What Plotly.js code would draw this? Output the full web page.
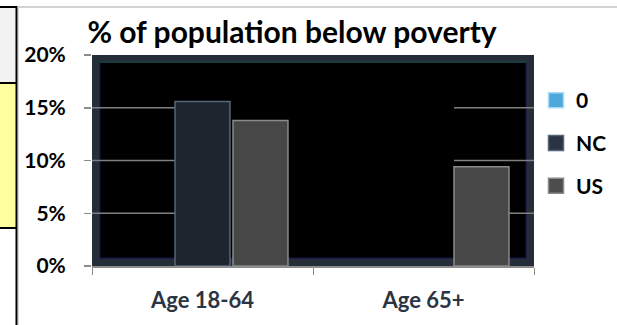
<!DOCTYPE html>
<html>
<head>
<meta charset="utf-8">
<script src="https://cdn.plot.ly/plotly-3.0.1.min.js"></script>
<style>
  html, body { margin: 0; padding: 0; background: #ffffff; }
  #chart { width: 617px; height: 325px; }
</style>
</head>
<body>
<div id="chart"></div>
<script>
// Poverty rates by age group
const categories = ['Age 18-64', 'Age 65+'];
const seriesNames = ['0', 'NC', 'US'];
const zeroValues = [0, 0];
const ncValues = [15.6, null];
const usValues = [13.8, 9.4];
const yTickValues = [0, 5, 10, 15, 20];
const yTickLabels = ['0%', '5%', '10%', '15%', '20%'];
const gridValues = [5, 10, 15];

const W = 617, H = 325;
const M = { l: 92, r: 83, t: 55, b: 59, autoexpand: false };
const plotW = W - M.l - M.r, plotH = H - M.t - M.b;
const bargap = 0.213;
const bargroupgap = 0.052;
const groupW = 1 - bargap;
const slotW = groupW / seriesNames.length;
const inset = slotW * bargroupgap / 2;

// pixel -> paper helpers for decoration drawn outside the plot area
const px = x => (x - M.l) / plotW;
const py = y => (H - M.b - y) / plotH;

const FONT = 'Lato, "Open Sans", sans-serif';
const seriesColors = ['#4fa8dc', '#1e252f', '#474747'];
const seriesEdges = ['#a8dcf7', '#56657a', '#8a8a8a'];
const swatchColors = ['#4fa8dc', '#2b3442', '#4d4d4d'];
const seriesValues = [zeroValues, ncValues, usValues];

const traces = [];
seriesNames.forEach((name, i) => {
  traces.push({
    type: 'bar', name: name, x: categories, y: seriesValues[i],
    showlegend: false,
    marker: { color: seriesColors[i], line: { color: seriesEdges[i], width: i === 0 ? 0 : 1.5 } },
    hoverinfo: 'skip'
  });
});
// legend entries with larger square swatches
seriesNames.forEach((name, i) => {
  traces.push({
    type: 'scatter', mode: 'markers', name: name, x: [null], y: [null],
    legendgroup: 'g' + i,
    marker: { symbol: 'square', size: 15, color: swatchColors[i],
              line: { color: seriesEdges[i], width: 1.5 } },
    hoverinfo: 'skip'
  });
});

const shapes = [];
// black back wall inside the dark frame
shapes.push({ type: 'rect', xref: 'paper', yref: 'paper', layer: 'below',
  x0: 8 / plotW, x1: 1 - 8 / plotW, y0: 8 / plotH, y1: 1 - 7 / plotH,
  fillcolor: '#000000', line: { color: '#12124a', width: 1 } });
shapes.push({ type: 'line', xref: 'paper', yref: 'paper', layer: 'below',
  x0: 8 / plotW, x1: 1 - 8 / plotW, y0: 1 - 7 / plotH, y1: 1 - 7 / plotH,
  line: { color: '#1d4a45', width: 1.5 } });

// gridline segments at the outer sides of the bar groups
const ncLeft = -groupW / 2 + slotW + inset;
const usLeft65 = 1 + groupW / 2 - slotW + inset;
gridValues.forEach(v => {
  shapes.push({ type: 'line', xref: 'x', yref: 'y', layer: 'below',
    x0: -0.5, x1: ncLeft, y0: v, y1: v, line: { color: '#808080', width: 1.5 } });
  shapes.push({ type: 'line', xref: 'x', yref: 'y', layer: 'below',
    x0: usLeft65, x1: 1.5, y0: v, y1: v, line: { color: '#808080', width: 1.5 } });
});

// worksheet cells on the left edge
shapes.push({ type: 'rect', xref: 'paper', yref: 'paper', layer: 'above',
  x0: px(0), x1: px(16), y0: py(83), y1: py(7), fillcolor: '#f2f2f2', line: { width: 0 } });
shapes.push({ type: 'rect', xref: 'paper', yref: 'paper', layer: 'above',
  x0: px(0), x1: px(16), y0: py(228), y1: py(83), fillcolor: '#ffff9f', line: { width: 0 } });
[7, 83, 228].forEach(y => {
  shapes.push({ type: 'line', xref: 'paper', yref: 'paper', layer: 'above',
    x0: px(0), x1: px(17), y0: py(y), y1: py(y), line: { color: '#000000', width: 2 } });
});
shapes.push({ type: 'line', xref: 'paper', yref: 'paper', layer: 'above',
  x0: px(16.5), x1: px(16.5), y0: py(325), y1: py(6), line: { color: '#000000', width: 2 } });
shapes.push({ type: 'line', xref: 'paper', yref: 'paper', layer: 'above',
  x0: px(18.5), x1: px(18.5), y0: py(325), y1: py(8), line: { color: '#d9d9d9', width: 1 } });
shapes.push({ type: 'line', xref: 'paper', yref: 'paper', layer: 'above',
  x0: px(17), x1: px(617), y0: py(7), y1: py(7), line: { color: '#a6a6a6', width: 1 } });

const layout = {
  width: W, height: H,
  margin: M,
  paper_bgcolor: '#ffffff',
  plot_bgcolor: '#252d39',
  barmode: 'group',
  bargap: bargap,
  bargroupgap: bargroupgap,
  font: { family: FONT, size: 21, color: '#000000', weight: 'bold' },
  title: {
    text: '% of population below poverty',
    font: { family: FONT, size: 30, color: '#000000', weight: 'bold' },
    x: 292 / W, xanchor: 'center',
    yref: 'container', y: 1 - 32 / H, yanchor: 'middle',
    automargin: false
  },
  xaxis: {
    type: 'category', range: [-0.5, 1.5],
    showgrid: false, zeroline: false,
    showline: true, linecolor: '#8c8c8c', linewidth: 1.5,
    ticks: 'outside', tickson: 'boundaries', ticklen: 7, tickcolor: '#8c8c8c', tickwidth: 1,
    ticklabelstandoff: 14,
    tickfont: { family: FONT, size: 22, color: '#2b3442', weight: 'bold' },
    automargin: false,
    fixedrange: true
  },
  yaxis: {
    range: [0, 20], tickvals: yTickValues, ticktext: yTickLabels,
    showgrid: false, zeroline: false, showline: false,
    ticks: 'outside', ticklen: 7, tickcolor: '#8c8c8c', tickwidth: 1.5,
    ticklabelstandoff: 14,
    tickfont: { family: FONT, size: 21, color: '#000000', weight: 'bold' },
    automargin: false,
    fixedrange: true
  },
  legend: {
    x: px(536), xanchor: 'left', y: py(80), yanchor: 'top',
    bgcolor: 'rgba(0,0,0,0)',
    traceorder: 'grouped', tracegroupgap: 12.5,
    font: { family: FONT, size: 21, color: '#000000', weight: 'bold' }
  },
  shapes: shapes,
  showlegend: true
};

Plotly.newPlot('chart', traces, layout, { displayModeBar: false, staticPlot: true });
</script>
</body>
</html>
